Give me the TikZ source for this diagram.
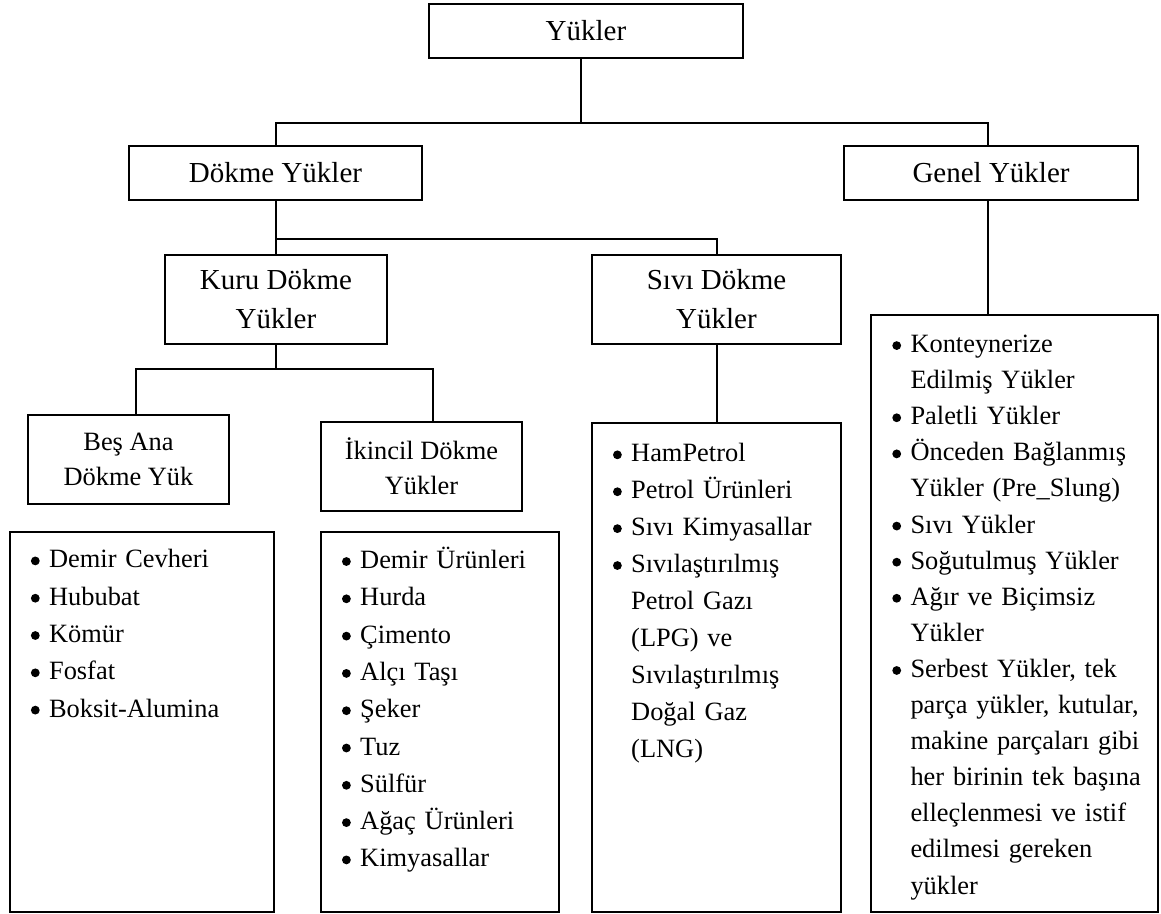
\documentclass[tikz,border=0pt]{standalone}
\usepackage{fontspec}
\setmainfont{Liberation Serif}

% font sizes: level-1/2 headings, level-3 headings, bullet lists
\newcommand\fHead{\fontsize{29}{39}\selectfont}
\newcommand\fSub{\fontsize{26.4}{35}\selectfont}
\newcommand\fListA{\fontsize{26.4}{37.3}\selectfont}
\newcommand\fListB{\fontsize{26.4}{36.9}\selectfont}
\newcommand\fListC{\fontsize{26.4}{36.1}\selectfont}
% round bullet with hanging indent
\newcommand\bl{\makebox[18.3pt][l]{\tikz[x=1pt,y=1pt,baseline=0pt]{\useasboundingbox (0,0) rectangle (9,0.1); \fill (4.5,7) circle (4.4pt);}}}
\newcommand\ind{\hspace*{18.3pt}}

\begin{document}
\begin{tikzpicture}[x=1pt,y=-1pt,
  box/.style={draw, line width=2pt, inner sep=0pt, anchor=north west, align=center},
  conn/.style={draw, line width=2pt},
  listtxt/.style={anchor=north west, inner sep=0pt, align=left, text width=250pt}]
\fill[white] (0,0) rectangle (1161,913);
\useasboundingbox (0,0) rectangle (1161,913);

% heading boxes
\node[box, minimum width=314pt, minimum height=54pt, font=\fHead] (top) at (428,3) {Yükler};
\node[box, minimum width=293pt, minimum height=54pt, font=\fHead] (dokme) at (128,145) {Dökme Yükler};
\node[box, minimum width=294pt, minimum height=54pt, font=\fHead] (genel) at (843,145) {Genel Yükler};
\node[box, minimum width=222pt, minimum height=89pt, font=\fHead] (kuru) at (164,254) {Kuru Dökme\\Yükler};
\node[box, minimum width=249pt, minimum height=89pt, font=\fHead] (sivi) at (591,254) {Sıvı Dökme\\Yükler};
\node[box, minimum width=201pt, minimum height=89pt, font=\fSub] (bes) at (27,414) {Beş Ana\\Dökme Yük};
\node[box, minimum width=201pt, minimum height=89pt, font=\fSub] (ikincil) at (320,421) {İkincil Dökme\\Yükler};

% list boxes
\node[box, minimum width=264pt, minimum height=380pt] (beslist) at (9,531) {};
\node[box, minimum width=238pt, minimum height=380pt] (ikinlist) at (320,531) {};
\node[box, minimum width=249pt, minimum height=489pt] (sivilist) at (591,422) {};
\node[box, minimum width=287pt, minimum height=597pt] (genlist) at (870,314) {};

% list contents
\node[listtxt, font=\fListA] (bestxt) at ([shift={(21.6,10.6)}]beslist.north west)
  {\strut\bl Demir Cevheri\\
   \bl Hububat\\
   \bl Kömür\\
   \bl Fosfat\\
   \bl Boksit-Alumina};
\node[listtxt, font=\fListA] (ikintxt) at ([shift={(21.7,11.2)}]ikinlist.north west)
  {\strut\bl Demir Ürünleri\\
   \bl Hurda\\
   \bl Çimento\\
   \bl Alçı Taşı\\
   \bl Şeker\\
   \bl Tuz\\
   \bl Sülfür\\
   \bl Ağaç Ürünleri\\
   \bl Kimyasallar};
\node[listtxt, font=\fListB] (sivitxt) at ([shift={(21.7,13.8)}]sivilist.north west)
  {\strut\bl HamPetrol\\
   \bl Petrol Ürünleri\\
   \bl Sıvı Kimyasallar\\
   \bl Sıvılaştırılmış\\
   \ind Petrol Gazı\\
   \ind (LPG) ve\\
   \ind Sıvılaştırılmış\\
   \ind Doğal Gaz\\
   \ind (LNG)};
\node[listtxt, font=\fListC] (gentxt) at ([shift={(22,13.1)}]genlist.north west)
  {\strut\bl Konteynerize\\
   \ind Edilmiş Yükler\\
   \bl Paletli Yükler\\
   \bl Önceden Bağlanmış\\
   \ind Yükler (Pre\_Slung)\\
   \bl Sıvı Yükler\\
   \bl Soğutulmuş Yükler\\
   \bl Ağır ve Biçimsiz\\
   \ind Yükler\\
   \bl Serbest Yükler, tek\\
   \ind parça yükler, kutular,\\
   \ind makine parçaları gibi\\
   \ind her birinin tek başına\\
   \ind elleçlenmesi ve istif\\
   \ind edilmesi gereken\\
   \ind yükler};

% connectors
\coordinate (bus1) at (0,123);
\coordinate (bus2) at (0,239);
\coordinate (bus3) at (0,369);
\draw[conn] ([xshift=-5pt]top.south) -- ([xshift=-5pt]top.south |- bus1);
\draw[conn] (dokme.north) |- ([xshift=-3.5pt]genel.north |- bus1) -- ([xshift=-3.5pt]genel.north);
\draw[conn] ([xshift=-3.5pt]genel.south) -- ([xshift=-3.5pt]genel.south |- genlist.north);
\draw[conn] (dokme.south) -- (dokme.south |- kuru.north);
\draw[conn] (dokme.south |- bus2) -| (sivi.north);
\draw[conn] (sivi.south) -- (sivilist.north);
\draw[conn] (kuru.south) -- (kuru.south |- bus3);
\draw[conn] ([xshift=7.5pt]bes.north) |- ([xshift=11.5pt]ikincil.north |- bus3) -- ([xshift=11.5pt]ikincil.north);
\end{tikzpicture}
\end{document}
